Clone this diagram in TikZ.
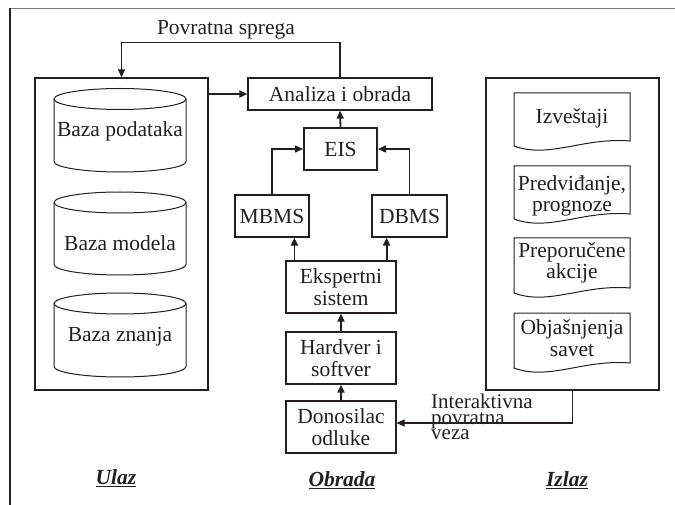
\documentclass[tikz,border=0pt]{standalone}
\usepackage{fontspec}
\setmainfont{Liberation Serif}
\usetikzlibrary{arrows.meta}
\definecolor{ink}{RGB}{35,31,32}
\definecolor{framegray}{RGB}{125,125,125}
\newcommand\mydoc[2]{\draw[docline] (514,#2) -- (514,#1) -- (630,#1) -- (630,#2-5) .. controls (583.6,#2-9) and (548.8,#2+13) .. (514,#2) -- cycle;}
\newcommand\mycyl[3]{%
  \draw[docline] (54,#1) -- (54,#2) arc[start angle=180,end angle=0,x radius=66,y radius=10.5] -- (186,#1);
  \draw[docline] (120,#1) ellipse[x radius=66,y radius=10.5];}
\begin{document}
\begin{tikzpicture}[x=1pt,y=-1pt,
  font=\fontsize{21.5}{21.5}\selectfont,
  box/.style={draw=ink, line width=1.2pt, inner sep=0pt, text=ink, align=center},
  txt/.style={text=ink, inner sep=0pt, align=center},
  docline/.style={draw=ink, line width=1pt},
  arr/.style={draw=ink, line width=1.8pt, -{Triangle[length=8pt,width=7pt]}},
  thinarr/.style={draw=ink, line width=1.1pt, -{Triangle[length=8pt,width=7pt]}}]
\useasboundingbox (0,0) rectangle (675,505);
% outer frame
\draw[framegray, line width=1.5pt] (9,8.5) -- (675,8.5);
\draw[ink, line width=1.5pt] (10,8) -- (10,505);
% containers
\node[box, minimum width=173, minimum height=312] (ulaz) at (121.5,234) {};
\node[box, minimum width=173, minimum height=312] (izlaz) at (572.5,234) {};
% cylinders
\mycyl{99}{161.5}{}
\mycyl{202.5}{264.5}{}
\mycyl{303.5}{366.5}{}
\node[txt] (bp) at (120,131) {Baza podataka};
\node[txt] (bm) at (120,243) {Baza modela};
\node[txt] (bz) at (120,337) {Baza znanja};
% middle column
\node[box, minimum width=184, minimum height=32] (analiza) at (340,94) {Analiza i obrada};
\node[box, line width=2pt, minimum width=73, minimum height=42] (eis) at (340.5,149) {EIS};
\node[box, minimum width=74, minimum height=42] (mbms) at (272,216) {MBMS};
\node[box, minimum width=75, minimum height=42] (dbms) at (409.5,216) {DBMS};
\node[box, minimum width=110, minimum height=52] (eks) at (341,287) {Ekspertni\\sistem};
\node[box, minimum width=110, minimum height=52] (hw) at (341,358) {Hardver i\\softver};
\node[box, minimum width=110, minimum height=52] (don) at (341,427) {Donosilac\\odluke};
% documents
\mydoc{93}{146}
\mydoc{166}{219}
\mydoc{238}{293}
\mydoc{313}{368}
\node[txt] (izv) at (572,118) {Izveštaji};
\node[txt] (pred) at (572,196) {Predviđanje,\\prognoze};
\node[txt] (prep) at (572,263) {Preporučene\\akcije};
\node[txt] (obj) at (572,338) {Objašnjenja\\savet};
% connectors
\draw[arr] (ulaz.east |- analiza.west) -- (analiza.west);
\draw[thinarr] (analiza.north) -- ++(0,-35) -| (ulaz.north);
\node[txt] (povr) at (226,30) {Povratna sprega};
\draw[arr] (eis.north) -- (analiza.south);
\draw[arr, line width=1.5pt] (mbms.north) |- (eis.west);
\draw[arr, line width=1.5pt] (dbms.north) |- (eis.east);
\draw[arr] ([xshift=9pt]eks.north west) -- ([xshift=9pt]eks.north west |- mbms.south);
\draw[arr] ([xshift=-10pt]eks.north east) -- ([xshift=-10pt]eks.north east |- dbms.south);
\draw[arr] (hw.north) -- (eks.south);
\draw[arr] (don.north) -- (hw.south);
\draw[thinarr] (izlaz.south) |- ([yshift=4pt]don.east);
\node[txt, anchor=west, align=left, font=\fontsize{21}{15.5}\selectfont] (inter) at (431,417) {Interaktivna\\povratna\\veza};
% section labels
\node[txt] (lu) at (116,478) {\underline{\textbf{\textit{Ulaz}}}};
\node[txt] (lo) at (342,480) {\underline{\textbf{\textit{Obrada}}}};
\node[txt] (li) at (567,480) {\underline{\textbf{\textit{Izlaz}}}};
\end{tikzpicture}
\end{document}
